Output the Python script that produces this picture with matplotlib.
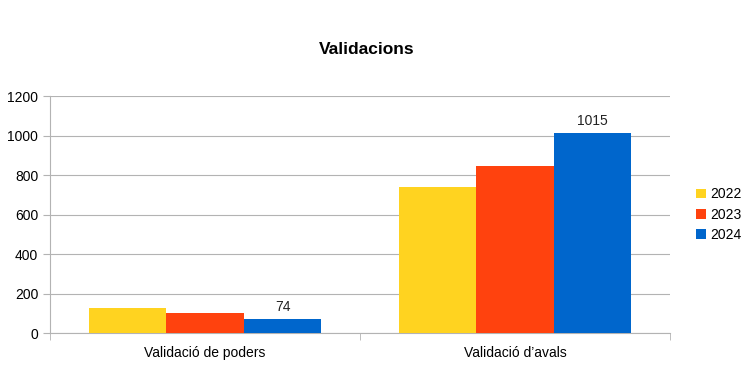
import matplotlib.pyplot as plt
import numpy as np

plt.rcParams['font.family'] = ['Liberation Sans', 'DejaVu Sans']

categories = ["Validació de poders", "Validació d\u2019avals"]
years = ["2022", "2023", "2024"]
values = {
    "2022": [128, 740],
    "2023": [104, 845],
    "2024": [74, 1015],
}
colors = {"2022": "#FFD320", "2023": "#FF420E", "2024": "#0066CC"}
labelled = ["2024"]

fig = plt.figure(figsize=(7.51, 3.66), dpi=100)
ax = fig.add_axes([50 / 751, (366 - 333.3) / 366, 620 / 751, 237.3 / 366])

x = np.arange(len(categories))
width = 0.25
for i, yr in enumerate(years):
    bars = ax.bar(x + (i - 1) * width, values[yr], width, color=colors[yr], label=yr, zorder=3)
    if yr in labelled:
        ax.bar_label(bars, padding=3, fontsize=10, color="#222222")

ax.set_xlim(-0.5, len(categories) - 0.5)
ax.set_ylim(0, 1200)
ax.set_yticks(range(0, 1201, 200))
ax.yaxis.grid(True, color="#b3b3b3", linewidth=0.8, zorder=0)
ax.set_xticks(x)
ax.set_xticklabels(categories, fontsize=10)
ax.set_xticks(np.arange(-0.5, len(categories), 1.0), minor=True)
ax.tick_params(axis="x", which="major", length=0, pad=9)
ax.tick_params(axis="x", which="minor", length=5, color="#b3b3b3")
ax.tick_params(axis="y", length=5, color="#b3b3b3", labelsize=10)

for s in ["top", "right"]:
    ax.spines[s].set_visible(False)
for s in ["left", "bottom"]:
    ax.spines[s].set_color("#b3b3b3")

fig.text(367 / 751, (366 - 50) / 366, "Validacions", fontsize=12.5, fontweight="bold",
         ha="center", va="center")

ax.legend(loc="center left", bbox_to_anchor=(1.022, 0.5), frameon=False, fontsize=10,
          handlelength=0.7, handleheight=0.7, handletextpad=0.3, labelspacing=0.45)

fig.savefig("out.png", dpi=100)
